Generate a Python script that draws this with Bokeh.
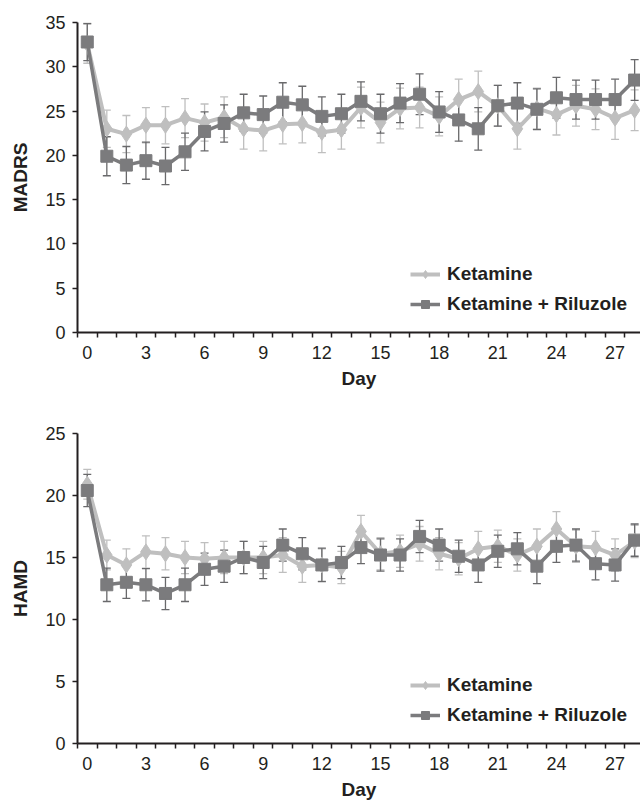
from bokeh.plotting import figure
from bokeh.models import Range1d, FixedTicker, Whisker, TeeHead, ColumnDataSource
from bokeh.layouts import column
from bokeh.embed import file_html
from bokeh.resources import INLINE

days = list(range(29))
x_tick_labels = [0, 3, 6, 9, 12, 15, 18, 21, 24, 27]
series_names = ["Ketamine", "Ketamine + Riluzole"]

madrs_ket = [32.6, 23.0, 22.4, 23.4, 23.4, 24.2, 23.7, 24.3, 23.0, 22.8, 23.5, 23.6, 22.6, 22.9,
             25.4, 23.7, 25.3, 25.4, 24.4, 26.3, 27.2, 25.6, 23.0, 25.3, 24.6, 25.6, 25.2, 24.2, 25.1]
madrs_ket_se = [2.2, 2.1, 2.1, 2.0, 2.1, 2.2, 2.1, 2.3, 2.3, 2.3, 2.2, 2.2, 2.3, 2.2,
                2.3, 2.3, 2.3, 2.3, 2.2, 2.3, 2.3, 2.3, 2.3, 2.3, 2.3, 2.3, 2.3, 2.4, 2.3]
madrs_combo = [32.8, 19.9, 18.9, 19.4, 18.8, 20.4, 22.7, 23.6, 24.8, 24.6, 26.0, 25.7, 24.4, 24.7,
               26.1, 24.7, 25.9, 26.9, 24.9, 24.0, 23.0, 25.6, 25.9, 25.2, 26.5, 26.3, 26.3, 26.3, 28.5]
madrs_combo_se = [2.1, 2.2, 2.1, 2.1, 2.1, 2.1, 2.2, 2.1, 2.1, 2.1, 2.2, 2.1, 2.2, 2.2,
                  2.2, 2.2, 2.2, 2.3, 2.3, 2.4, 2.4, 2.3, 2.3, 2.3, 2.3, 2.2, 2.2, 2.3, 2.3]

hamd_ket = [20.9, 15.2, 14.4, 15.45, 15.3, 15.0, 14.9, 15.0, 15.0, 15.0, 15.2, 14.3, 14.4, 14.2,
            17.1, 15.3, 15.5, 16.1, 15.3, 14.9, 15.7, 15.9, 15.2, 15.9, 17.3, 15.9, 15.8, 15.2, 16.3]
hamd_ket_se = [1.2, 1.2, 1.3, 1.3, 1.3, 1.3, 1.3, 1.3, 1.3, 1.3, 1.4, 1.3, 1.3, 1.3,
               1.3, 1.3, 1.3, 1.4, 1.3, 1.3, 1.4, 1.3, 1.3, 1.4, 1.4, 1.3, 1.3, 1.3, 1.3]
hamd_combo = [20.4, 12.8, 13.0, 12.8, 12.1, 12.8, 14.05, 14.3, 15.0, 14.6, 16.0, 15.3, 14.4, 14.6,
              15.8, 15.2, 15.2, 16.7, 16.0, 15.1, 14.4, 15.5, 15.7, 14.3, 15.9, 16.0, 14.5, 14.4, 16.4]
hamd_combo_se = [1.3, 1.35, 1.3, 1.3, 1.3, 1.35, 1.3, 1.3, 1.3, 1.3, 1.3, 1.3, 1.35, 1.3,
                 1.3, 1.3, 1.3, 1.3, 1.3, 1.3, 1.4, 1.3, 1.3, 1.4, 1.3, 1.3, 1.3, 1.3, 1.3]

LIGHT = "#bfbfbf"
DARK = "#7b7b7d"
DARK_ERR = "#69696b"
INK = "#231f20"
FONT = "Liberation Sans"


def make_chart(ylabel, ymax, ket, ket_se, combo, combo_se, height, border_top, border_bottom):
    p = figure(width=640, height=height, output_backend="svg", toolbar_location=None,
               x_range=Range1d(-0.5, 28.3), y_range=Range1d(0, ymax),
               min_border_left=77, min_border_right=0,
               min_border_top=border_top, min_border_bottom=border_bottom)
    p.outline_line_color = None
    p.xgrid.visible = False
    p.ygrid.visible = False

    for vals, ses, col, ecol, marker, msize, lw, name in [
        (ket, ket_se, LIGHT, LIGHT, "diamond", 16, 4.0, series_names[0]),
        (combo, combo_se, DARK, DARK_ERR, "square", 12, 3.5, series_names[1]),
    ]:
        src = ColumnDataSource(dict(day=days, v=vals,
                                    lo=[a - b for a, b in zip(vals, ses)],
                                    hi=[a + b for a, b in zip(vals, ses)]))
        w = Whisker(base="day", lower="lo", upper="hi", source=src, dimension="height",
                    line_color=ecol, line_width=1.3,
                    upper_head=TeeHead(size=8, line_color=ecol, line_width=1.3),
                    lower_head=TeeHead(size=8, line_color=ecol, line_width=1.3))
        p.add_layout(w)
        p.line("day", "v", source=src, line_color=col, line_width=lw, legend_label=name)
        p.scatter("day", "v", source=src, marker=marker, size=msize, fill_color=col,
                  line_color=col, legend_label=name)

    for ax in (p.xaxis[0], p.yaxis[0]):
        ax.axis_line_color = INK
        ax.axis_line_width = 2
        ax.major_label_text_font = FONT
        ax.major_label_text_font_size = "18px"
        ax.major_label_text_color = INK
        ax.axis_label_text_font = FONT
        ax.axis_label_text_font_size = "19px"
        ax.axis_label_text_font_style = "bold"
        ax.axis_label_text_color = INK
        ax.major_tick_line_color = INK
        ax.major_tick_line_width = 1.5
        ax.minor_tick_line_color = INK
        ax.minor_tick_line_width = 1.5

    p.xaxis.ticker = FixedTicker(ticks=x_tick_labels, minor_ticks=[d - 0.5 for d in days])
    p.xaxis.major_tick_out = 0
    p.xaxis.major_tick_in = 0
    p.xaxis.minor_tick_out = 5
    p.xaxis.minor_tick_in = 0
    p.xaxis.major_label_standoff = 8
    p.xaxis.axis_label = "Day"
    p.xaxis.axis_label_standoff = 6

    p.yaxis.ticker = FixedTicker(ticks=list(range(0, ymax + 1, 5)))
    p.yaxis.major_tick_out = 5
    p.yaxis.major_tick_in = 0
    p.yaxis.minor_tick_out = 0
    p.yaxis.minor_tick_in = 0
    p.yaxis.major_label_standoff = 7
    p.yaxis.axis_label = ylabel
    p.yaxis.axis_label_standoff = 11

    lg = p.legend[0]
    lg.location = (333, 17)
    lg.background_fill_alpha = 0
    lg.border_line_color = None
    lg.padding = 0
    lg.margin = 0
    lg.spacing = 8
    lg.glyph_width = 30
    lg.glyph_height = 20
    lg.label_height = 20
    lg.label_standoff = 7
    lg.label_text_font = FONT
    lg.label_text_font_size = "19px"
    lg.label_text_font_style = "bold"
    lg.label_text_color = INK
    return p


p1 = make_chart("MADRS", 35, madrs_ket, madrs_ket_se, madrs_combo, madrs_combo_se,
                height=395, border_top=22, border_bottom=63)
p2 = make_chart("HAMD", 25, hamd_ket, hamd_ket_se, hamd_combo, hamd_combo_se,
                height=407, border_top=38, border_bottom=59)

layout = column(p1, p2, spacing=0)
open("out.html", "w").write(file_html(layout, INLINE))
